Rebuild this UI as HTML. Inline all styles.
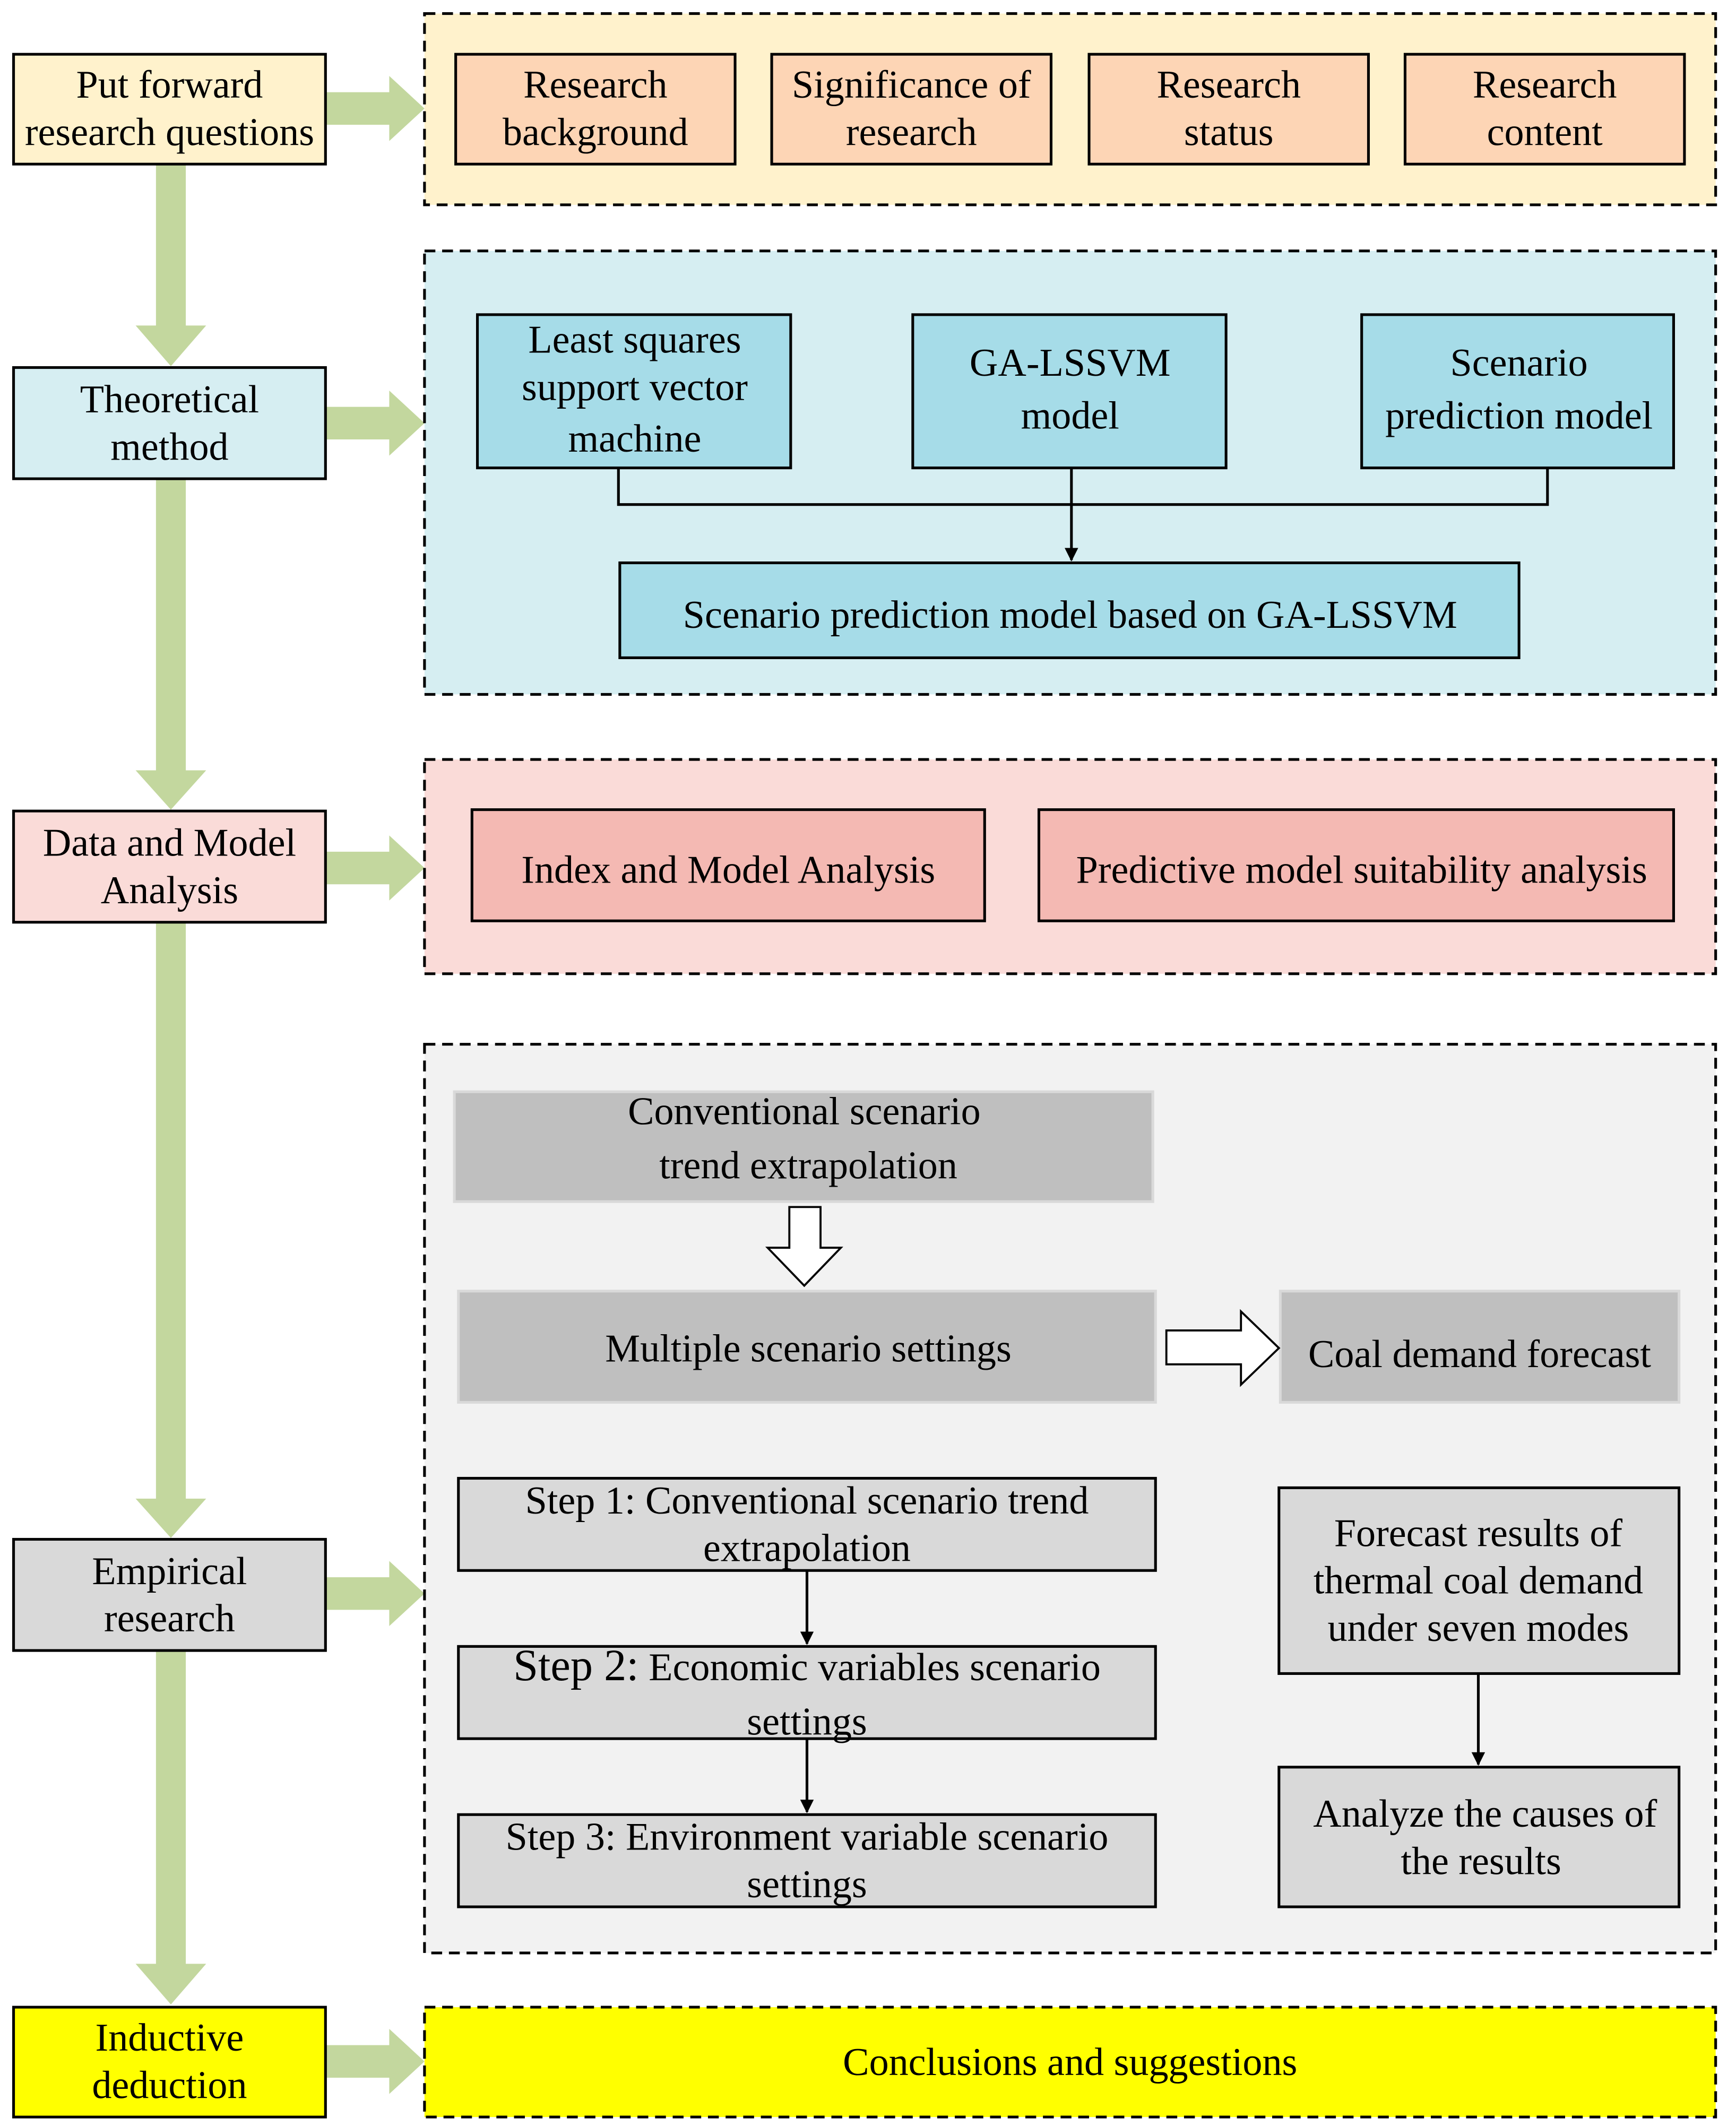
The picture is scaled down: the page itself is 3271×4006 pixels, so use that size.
<!DOCTYPE html>
<html><head><meta charset="utf-8"><style>html,body{margin:0;padding:0;background:#fff}svg{display:block}text{font-family:"Liberation Serif",serif;font-size:29px;fill:#000;text-anchor:middle}</style></head><body>
<svg width="3271" height="4006" viewBox="0 0 1280 1567.6" xmlns="http://www.w3.org/2000/svg">
<defs><marker id="ah" markerWidth="10" markerHeight="10" refX="9" refY="5" orient="auto" markerUnits="userSpaceOnUse" viewBox="0 0 10 10"><path d="M0,0 L10,5 L0,10 z" fill="#000"/></marker></defs>
<g fill="#c3d79e">
<path d="M115,121 H137 V240 H152 L126,270 L100,240 H115 Z"/>
<path d="M115,353 H137 V568 H152 L126,597 L100,568 H115 Z"/>
<path d="M115,680 H137 V1105 H152 L126,1134 L100,1105 H115 Z"/>
<path d="M115,1217 H137 V1448 H152 L126,1478 L100,1448 H115 Z"/>
<path d="M240,68 H287 V56 L313,80 L287,104 V92 H240 Z"/>
<path d="M240,300 H287 V288 L313,312 L287,336 V324 H240 Z"/>
<path d="M240,628 H287 V616 L313,640 L287,664 V652 H240 Z"/>
<path d="M240,1163 H287 V1151 L313,1175 L287,1199 V1187 H240 Z"/>
<path d="M240,1508 H287 V1496 L313,1520 L287,1544 V1532 H240 Z"/>
</g>
<g stroke="#000" stroke-width="2">
<rect x="10" y="40" width="230" height="81" fill="#fff2cc"/>
<rect x="10" y="271" width="230" height="82" fill="#d6eef2"/>
<rect x="10" y="598" width="230" height="82" fill="#fadbd8"/>
<rect x="10" y="1135" width="230" height="82" fill="#d9d9d9"/>
<rect x="10" y="1480" width="230" height="81" fill="#ffff00"/>
</g>
<g stroke="#000" stroke-width="2" stroke-dasharray="8,5">
<rect x="313" y="10" width="952" height="141" fill="#fff2cc"/>
<rect x="313" y="185" width="952" height="327" fill="#d6eef2"/>
<rect x="313" y="560" width="952" height="158" fill="#fadbd8"/>
<rect x="313" y="770" width="952" height="670" fill="#f2f2f2"/>
<rect x="313" y="1480" width="952" height="81" fill="#ffff00"/>
</g>
<g stroke="#000" stroke-width="2">
<rect x="336" y="40" width="206" height="81" fill="#fdd5b5"/>
<rect x="569" y="40" width="206" height="81" fill="#fdd5b5"/>
<rect x="803" y="40" width="206" height="81" fill="#fdd5b5"/>
<rect x="1036" y="40" width="206" height="81" fill="#fdd5b5"/>
<rect x="352" y="232" width="231" height="113" fill="#a6dce8"/>
<rect x="673" y="232" width="231" height="113" fill="#a6dce8"/>
<rect x="1004" y="232" width="230" height="113" fill="#a6dce8"/>
<rect x="457" y="415" width="663" height="70" fill="#a6dce8"/>
<rect x="348" y="597" width="378" height="82" fill="#f4b9b3"/>
<rect x="766" y="597" width="468" height="82" fill="#f4b9b3"/>
<rect x="338" y="1090" width="514" height="68" fill="#d9d9d9"/>
<rect x="338" y="1214" width="514" height="68" fill="#d9d9d9"/>
<rect x="338" y="1338" width="514" height="68" fill="#d9d9d9"/>
<rect x="943" y="1097" width="295" height="137" fill="#d9d9d9"/>
<rect x="943" y="1303" width="295" height="103" fill="#d9d9d9"/>
<path d="M456,345 V372 H1141 V345" fill="none"/>
<path d="M790,345 V413" marker-end="url(#ah)"/>
<path d="M595,1158 V1212" marker-end="url(#ah)"/>
<path d="M595,1282 V1336" marker-end="url(#ah)"/>
<path d="M1090,1234 V1301" marker-end="url(#ah)"/>
</g>
<g stroke="#d9d9d9" stroke-width="2" fill="#bfbfbf">
<rect x="335" y="805" width="515" height="81"/>
<rect x="338" y="952" width="514" height="82"/>
<rect x="944" y="952" width="294" height="82"/>
</g>
<g fill="#fff" stroke="#000" stroke-width="1.5">
<path d="M582,890 H605 V920 H620 L593,948 L566,920 H582 Z"/>
<path d="M860,981 H915 V967 L943,994 L915,1021 V1006 H860 Z"/>
</g>
<text x="125" y="72">Put forward</text><text x="125" y="107">research questions</text>
<text x="125" y="304">Theoretical</text><text x="125" y="339">method</text>
<text x="125" y="631">Data and Model</text><text x="125" y="666">Analysis</text>
<text x="125" y="1168">Empirical</text><text x="125" y="1203">research</text>
<text x="125" y="1512">Inductive</text><text x="125" y="1547">deduction</text>
<text x="439" y="72">Research</text><text x="439" y="107">background</text>
<text x="672" y="72">Significance of</text><text x="672" y="107">research</text>
<text x="906" y="72">Research</text><text x="906" y="107">status</text>
<text x="1139" y="72">Research</text><text x="1139" y="107">content</text>
<text x="468" y="260">Least squares</text><text x="468" y="295">support vector</text><text x="468" y="333">machine</text>
<text x="789" y="277">GA-LSSVM</text><text x="789" y="316">model</text>
<text x="1120" y="277">Scenario</text><text x="1120" y="316">prediction model</text>
<text x="789" y="463">Scenario prediction model based on GA-LSSVM</text>
<text x="537" y="651">Index and Model Analysis</text>
<text x="1004" y="651">Predictive model suitability analysis</text>
<text x="593" y="829">Conventional scenario</text><text x="596" y="869">trend extrapolation</text>
<text x="596" y="1004">Multiple scenario settings</text>
<text x="1091" y="1008">Coal demand forecast</text>
<text x="595" y="1116">Step 1: Conventional scenario trend</text><text x="595" y="1151">extrapolation</text>
<text x="595" y="1239"><tspan font-size="33">Step 2:</tspan> Economic variables scenario</text><text x="595" y="1279">settings</text>
<text x="595" y="1364">Step 3: Environment variable scenario</text><text x="595" y="1399">settings</text>
<text x="1090" y="1140">Forecast results of</text><text x="1090" y="1175">thermal coal demand</text><text x="1090" y="1210">under  seven modes</text>
<text x="1095" y="1347">Analyze the causes of</text><text x="1092" y="1382">the results</text>
<text x="789" y="1530">Conclusions and suggestions</text>
</svg>
</body></html>
